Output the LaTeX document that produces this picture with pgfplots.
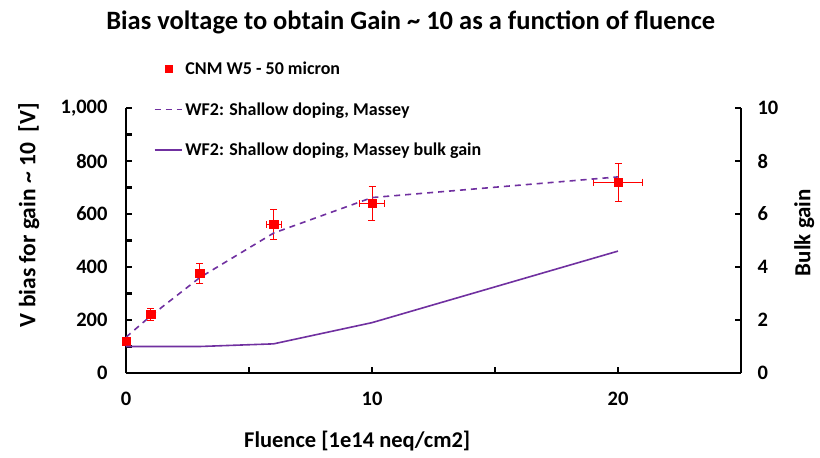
\documentclass[border=0pt]{standalone}
\usepackage{pgfplots}
\pgfplotsset{compat=1.18}
\usepackage{fontspec}
\setmainfont{Carlito}
\definecolor{mpurple}{HTML}{7030A0}
\definecolor{mred}{HTML}{FF0000}
\pgfplotsset{
  markleg/.style={legend image code/.code={\draw[##1, mark size=3.6pt] plot coordinates {(14pt,0pt)};}},
  lineleg/.style={legend image code/.code={\draw[##1] (0pt,0pt) -- (27pt,0pt);}},
  every tick/.append style={line width=2.6pt, black},
  every axis line/.append style={line width=2.6pt, black},
}
\begin{document}
\begin{tikzpicture}
\path[use as bounding box] (-126pt,-85pt) rectangle (694pt,373pt);
\begin{axis}[
  at={(0pt,0pt)}, anchor=south west,
  scale only axis, width=615pt, height=265pt,
  xmin=0, xmax=25, ymin=0, ymax=1000,
  axis x line*=bottom, axis y line*=left,
  axis line style={line width=2.6pt, black, -},
  xtick={0,10,20}, minor xtick={5,15},
  ytick={0,200,400,600,800,1000}, minor ytick={100,300,500,700,900},
  tick align=inside,
  major tick length=6pt, minor tick length=6pt,
  tick style={black, line width=2.6pt},
  /pgf/number format/assume math mode=true,
  /pgf/number format/1000 sep={,},
  tick label style={font=\fontsize{20.5}{23}\selectfont\bfseries},
  yticklabel style={xshift=-15pt},
  xticklabel style={yshift=-16pt},
  title={Bias voltage to obtain Gain \textasciitilde{} 10 as a function of fluence},
  title style={at={(0.463,1.30)}, anchor=center, font=\fontsize{26.5}{30}\selectfont\bfseries},
  xlabel={Fluence [1e14 neq/cm2]},
  xlabel style={at={(0.376,-0.255)}, anchor=center, font=\fontsize{22.5}{26}\selectfont\bfseries},
  ylabel={V bias for gain \textasciitilde{} 10\ \ [V]},
  ylabel style={at={(-0.158,0.596)}, anchor=center, rotate=0, font=\fontsize{23.5}{26}\selectfont\bfseries},
  legend style={at={(0.04,1.19)}, anchor=north west, draw=none, fill=none,
    font=\fontsize{18}{21}\selectfont\bfseries, row sep=22.5pt,
    /tikz/every odd column/.append style={column sep=1pt}},
  legend cell align=left,
]
\addplot[only marks, mark=square*, mark size=4.2pt, mred, markleg,
  error bars/.cd, x dir=both, x explicit, y dir=both, y explicit,
  error bar style={mred, line width=0.8pt},
  error mark options={rotate=90, mred, mark size=3.5pt, line width=0.8pt},
  ]
  coordinates {
  (0,120) +- (0,12)
  (1,222) +- (0.05,22)
  (3,376) +- (0.15,38)
  (6,562) +- (0.3,56)
  (10,641) +- (0.5,64)
  (20,720) +- (1.0,72)
  };
\addlegendentry{CNM W5 - 50 micron}
\addplot[mpurple, line width=1.6pt, dash pattern=on 6pt off 5pt, lineleg]
  coordinates {(0,135) (1,215) (3,360) (6,528) (10,662) (20,740)};
\addlegendentry{WF2: Shallow doping, Massey}
\addlegendimage{mpurple, line width=1.6pt, lineleg}
\addlegendentry{WF2: Shallow doping, Massey bulk gain}
\end{axis}
\begin{axis}[
  at={(0pt,0pt)}, anchor=south west,
  scale only axis, width=615pt, height=265pt,
  xmin=0, xmax=25, ymin=0, ymax=10,
  axis x line=none, axis y line*=right,
  axis line style={line width=2.6pt, black, -},
  ytick={0,2,4,6,8,10},
  tick align=inside, major tick length=6pt,
  tick style={black, line width=2.6pt},
  /pgf/number format/assume math mode=true,
  tick label style={font=\fontsize{20.5}{23}\selectfont\bfseries},
  yticklabel style={xshift=13pt},
  ylabel={Bulk gain},
  ylabel style={at={(1.103,0.53)}, anchor=center, rotate=0, font=\fontsize{23}{26}\selectfont\bfseries},
]
\addplot[mpurple, line width=1.6pt]
  coordinates {(0,1.0) (3,1.0) (6,1.1) (10,1.9) (20,4.6)};
\end{axis}
\end{tikzpicture}
\end{document}
